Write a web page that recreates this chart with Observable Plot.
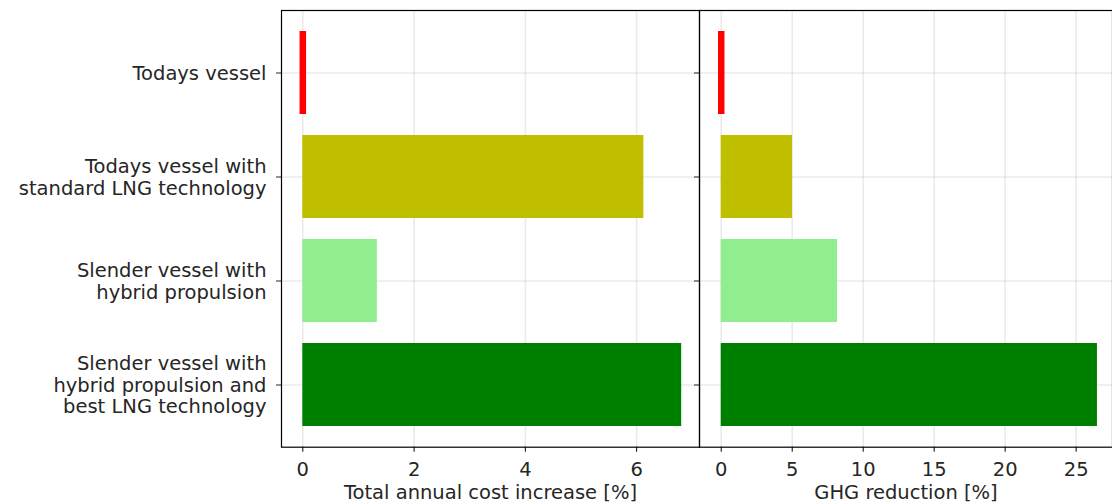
<!DOCTYPE html>
<html>
<head>
<meta charset="utf-8">
<script src="https://cdn.jsdelivr.net/npm/d3@7"></script>
<script src="https://cdn.jsdelivr.net/npm/@observablehq/plot@0.6"></script>
<style>
  html, body { margin: 0; padding: 0; background: white; }
  #chart { position: relative; width: 1112px; height: 504px; overflow: hidden; }
  #chart svg { position: absolute; top: 0; }
</style>
</head>
<body>
<div id="chart"></div>
<script>
const categories = [
  "Todays vessel",
  "Todays vessel with\nstandard LNG technology",
  "Slender vessel with\nhybrid propulsion",
  "Slender vessel with\nhybrid propulsion and\nbest LNG technology"
];
const costIncrease = [0, 6.13, 1.34, 6.81];
const ghgReduction = [0, 5.02, 8.19, 26.5];
const colors = ["#ff0000", "#bfbf00", "#90ee90", "#008000"];
const costTicks = [0, 2, 4, 6];
const ghgTicks = [0, 5, 10, 15, 20, 25];
const costLabel = "Total annual cost increase [%]";
const ghgLabel = "GHG reduction [%]";

const rows = categories.map((c, i) => ({cat: c, cost: costIncrease[i], ghg: ghgReduction[i], color: colors[i]}));

const FONT = "DejaVu Sans";
const FS = 19.5;

function panel({key, ticks, domain, label, width, marginLeft, showLabels, transparent}) {
  return Plot.plot({
    width, height: 504,
    marginTop: 10, marginBottom: 57.3, marginLeft, marginRight: 0,
    style: {fontFamily: FONT, fontSize: FS + "px", color: "#262626", background: transparent ? "transparent" : "white", overflow: "visible"},
    x: {domain, ticks, label: null},
    y: {domain: categories, paddingInner: 0.2, paddingOuter: 0.19, label: null},
    color: {type: "identity"},
    marks: [
      Plot.gridX(ticks, {stroke: "#b0b0b0", strokeOpacity: 0.25, strokeWidth: 1.6}),
      Plot.gridY(categories, {stroke: "#b0b0b0", strokeOpacity: 0.25, strokeWidth: 1.6}),
      Plot.barX(rows.filter(d => d[key] > 0), {y: "cat", x1: 0, x2: key, fill: "color"}),
      Plot.tickX(rows.filter(d => d[key] === 0), {y: "cat", x: key, stroke: "color", strokeWidth: 6.5}),
      Plot.axisX({ticks, tickSize: 5, tickPadding: 10, label: null, fontSize: FS, stroke: "black", color: "#262626"}),
      Plot.axisY({tickSize: 5, tickPadding: 10, label: null, fontSize: FS, lineHeight: 1.1,
        tickFormat: showLabels ? (d => d) : () => ""}),
      Plot.text([label], {frameAnchor: "bottom", lineAnchor: "top", dy: 38, fontSize: FS, fill: "#262626"}),
      Plot.frame({stroke: "black", strokeWidth: 1.2})
    ]
  });
}

const left = panel({key: "cost", ticks: costTicks, domain: [-0.383, 7.13], label: costLabel, width: 699, marginLeft: 281, showLabels: true, transparent: false});
left.style.left = "0px";
const right = panel({key: "ghg", ticks: ghgTicks, domain: [-1.53, 27.56], label: ghgLabel, width: 432, marginLeft: 19, showLabels: false, transparent: true});
right.style.left = "680px";
const chart = document.getElementById("chart");
chart.appendChild(left);
chart.appendChild(right);
</script>
</body>
</html>
